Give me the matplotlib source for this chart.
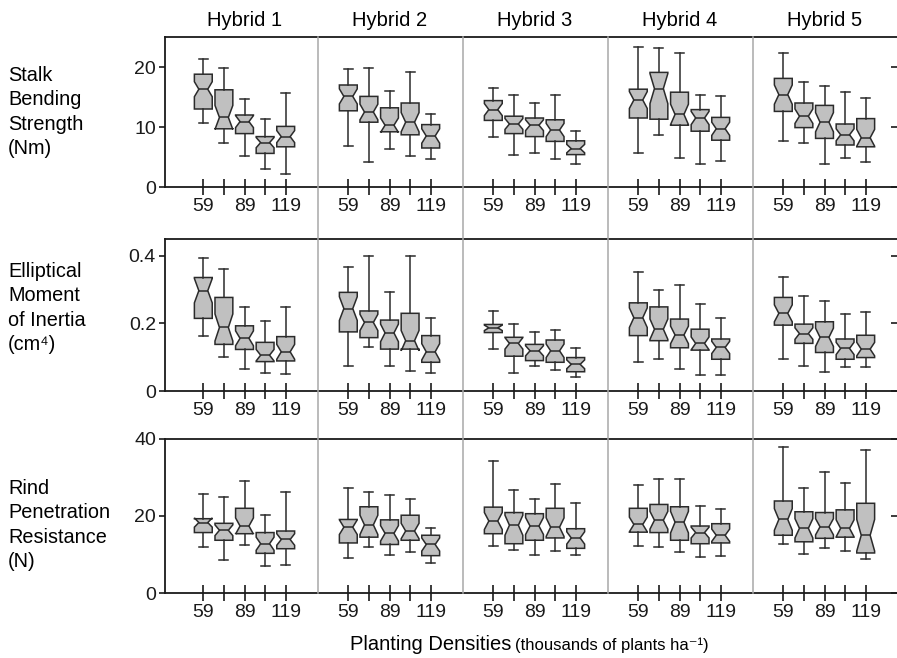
import numpy as np
import matplotlib
matplotlib.use('Agg')
import matplotlib.pyplot as plt
from matplotlib import transforms
from matplotlib.lines import Line2D

plt.rcParams['font.family'] = ['Liberation Sans', 'DejaVu Sans']

hybrids = ['Hybrid 1', 'Hybrid 2', 'Hybrid 3', 'Hybrid 4', 'Hybrid 5']
densities = [59, 74, 89, 104, 119]
density_labels = ['59', '', '89', '', '119']
row_labels = ['Stalk\nBending\nStrength\n(Nm)',
              'Elliptical\nMoment\nof Inertia\n(cm\u2074)',
              'Rind\nPenetration\nResistance\n(N)']

# stalk bending strength (Nm), one inner list per hybrid, one value per density
sbs_lo = [[10.7, 7.4, 5.1, 3.0, 2.1], [6.9, 4.1, 6.3, 5.2, 4.6], [8.3, 5.3, 5.7, 4.6, 3.8],
          [5.7, 8.6, 4.8, 3.8, 4.3], [7.6, 7.4, 3.8, 4.9, 4.2]]
sbs_q1 = [[13.0, 9.7, 8.9, 5.6, 6.7], [12.7, 10.8, 9.2, 8.7, 6.5], [11.1, 8.9, 8.4, 7.6, 5.4],
          [11.5, 11.3, 10.3, 9.3, 7.8], [12.6, 9.9, 8.1, 7.0, 6.7]]
sbs_med = [[16.3, 11.6, 10.9, 7.4, 8.4], [15.1, 12.5, 10.3, 10.8, 8.5], [12.9, 10.5, 10.3, 9.5, 6.4],
           [14.5, 16.4, 12.1, 11.5, 9.7], [15.4, 11.8, 10.8, 8.7, 8.2]]
sbs_q3 = [[18.8, 16.2, 12.0, 8.4, 10.1], [17.0, 15.1, 13.2, 14.0, 10.4], [14.4, 11.8, 11.5, 11.2, 7.7],
          [16.3, 19.1, 15.8, 12.9, 11.6], [18.1, 14.0, 13.6, 10.5, 11.4]]
sbs_hi = [[21.3, 19.9, 14.7, 11.4, 15.6], [19.7, 19.9, 16.0, 19.2, 12.2], [16.5, 15.3, 14.0, 15.4, 9.3],
          [23.4, 23.2, 22.4, 15.4, 15.2], [22.4, 17.5, 16.9, 15.8, 14.8]]
sbs_notch = [[1.25, 2.0, 1.0, 0.85, 1.0], [1.25, 1.3, 1.2, 1.6, 1.2], [1.0, 0.9, 0.9, 1.1, 0.7],
             [1.4, 2.5, 1.7, 1.1, 1.1], [1.6, 1.2, 1.6, 1.0, 1.4]]

# elliptical moment of inertia (cm4)
emi_lo = [[.163, .100, .064, .052, .049], [.074, .129, .075, .059, .052], [.124, .052, .074, .062, .040],
          [.085, .094, .064, .047, .047], [.094, .075, .055, .070, .070]]
emi_q1 = [[.215, .138, .123, .087, .089], [.175, .158, .124, .124, .085], [.173, .103, .090, .085, .057],
          [.164, .149, .128, .121, .094], [.195, .141, .114, .094, .099]]
emi_med = [[.297, .188, .156, .106, .116], [.244, .203, .172, .149, .116], [.187, .141, .119, .119, .079],
           [.217, .183, .166, .141, .129], [.230, .170, .159, .126, .124]]
emi_q3 = [[.336, .277, .193, .144, .161], [.292, .237, .210, .230, .164], [.197, .159, .138, .151, .099],
          [.261, .249, .213, .183, .154], [.277, .198, .205, .154, .165]]
emi_hi = [[.394, .360, .249, .208, .249], [.367, .399, .294, .399, .215], [.236, .197, .175, .180, .126],
          [.353, .300, .315, .259, .215], [.338, .281, .266, .228, .234]]
emi_notch = [[.036, .040, .022, .017, .022], [.035, .024, .026, .030, .024], [.008, .017, .015, .020, .013],
             [.029, .030, .026, .019, .018], [.025, .017, .027, .018, .020]]

# rind penetration resistance (N)
rpr_lo = [[11.9, 8.7, 12.4, 7.1, 7.2], [9.1, 11.9, 9.8, 10.7, 7.8], [12.3, 11.1, 9.8, 11.0, 9.8],
          [12.3, 11.9, 10.6, 9.4, 9.7], [12.6, 10.2, 11.7, 11.0, 8.9]]
rpr_q1 = [[15.7, 13.7, 15.4, 10.3, 11.5], [13.0, 14.5, 12.6, 13.7, 9.7], [15.4, 12.8, 13.7, 14.3, 11.6],
          [15.8, 15.7, 13.7, 12.8, 13.0], [15.0, 13.3, 14.2, 14.5, 10.4]]
rpr_med = [[18.3, 16.3, 17.4, 12.8, 13.9], [17.1, 17.7, 15.5, 16.1, 12.6], [18.7, 17.6, 17.4, 17.1, 14.3],
           [17.8, 18.9, 18.4, 15.7, 15.0], [19.1, 16.8, 17.2, 16.8, 15.0]]
rpr_q3 = [[19.3, 18.1, 22.0, 15.7, 16.1], [19.1, 22.4, 19.0, 20.2, 15.0], [22.3, 20.9, 20.6, 22.0, 16.7],
          [22.0, 23.0, 22.4, 17.4, 18.0], [23.9, 21.1, 20.9, 21.6, 23.3]]
rpr_hi = [[25.8, 25.0, 29.1, 20.2, 26.3], [27.4, 26.3, 25.4, 24.5, 16.8], [34.2, 26.7, 24.3, 28.4, 23.5],
          [28.1, 29.7, 29.7, 22.6, 21.9], [37.8, 27.2, 31.5, 28.7, 37.2]]
rpr_notch = [[1.2, 1.4, 2.1, 1.7, 1.5], [1.9, 2.5, 2.0, 2.0, 1.7], [2.2, 2.6, 2.2, 2.4, 1.6],
             [1.9, 2.3, 2.8, 1.4, 1.6], [2.8, 2.5, 2.1, 2.2, 4.1]]

rows = [
    (sbs_lo, sbs_q1, sbs_med, sbs_q3, sbs_hi, sbs_notch, (0, 25), [0, 10, 20], ['0', '10', '20']),
    (emi_lo, emi_q1, emi_med, emi_q3, emi_hi, emi_notch, (0, 0.45), [0, 0.2, 0.4], ['0', '0.2', '0.4']),
    (rpr_lo, rpr_q1, rpr_med, rpr_q3, rpr_hi, rpr_notch, (0, 40), [0, 20, 40], ['0', '20', '40']),
]

W, H = 897, 658
PANEL = 105.6          # x units per hybrid panel
XMIN, XMAX = 31.1, 564.2
dark = '#2b2b2b'
# top / bottom pixel of each row of axes
row_px = [(37, 187), (239, 391), (439, 593)]
label_y = [112, 308, 525]

fig = plt.figure(figsize=(W / 100, H / 100), dpi=100)
axes = []
for r, (lo, q1, med, q3, hi, notch, ylim, yt, ytl) in enumerate(rows):
    top, bot = row_px[r]
    ax = fig.add_axes([165 / W, 1 - bot / H, (W - 165) / W, (bot - top) / H])
    axes.append(ax)
    stats, pos = [], []
    for h in range(5):
        for i, d in enumerate(densities):
            stats.append(dict(med=med[h][i], q1=q1[h][i], q3=q3[h][i],
                              whislo=lo[h][i], whishi=hi[h][i],
                              cilo=med[h][i] - notch[h][i], cihi=med[h][i] + notch[h][i],
                              fliers=[]))
            pos.append(h * PANEL + d)
    ax.bxp(stats, positions=pos, widths=13, shownotches=True, patch_artist=True,
           showfliers=False, manage_ticks=False,
           boxprops=dict(facecolor='#c0c0c0', edgecolor=dark, linewidth=1.1),
           whiskerprops=dict(color=dark, linewidth=1.1),
           capprops=dict(color=dark, linewidth=1.1),
           medianprops=dict(color=dark, linewidth=1.1))
    ax.set_xlim(XMIN, XMAX)
    ax.set_ylim(*ylim)
    ax.set_xticks(pos)
    ax.set_xticklabels(density_labels * 5)
    ax.set_yticks(yt)
    ax.set_yticklabels(ytl)
    ax.tick_params(axis='x', direction='inout', length=11.5, width=1.2, labelsize=14,
                   pad=2.5, colors='#1a1a1a')
    ax.tick_params(axis='y', direction='out', length=4, width=1.2, labelsize=14,
                   pad=2.5, colors='#1a1a1a')
    ax.spines['right'].set_visible(False)
    for s in ['top', 'left', 'bottom']:
        ax.spines[s].set_linewidth(1.3)
        ax.spines[s].set_color('#1a1a1a')
    # small inward ticks on the right edge
    ax2 = ax.twinx()
    ax2.set_ylim(*ylim)
    ax2.set_yticks(yt)
    ax2.tick_params(axis='y', direction='in', length=4, width=1.2, labelright=False,
                    colors='#1a1a1a')
    for s in ax2.spines.values():
        s.set_visible(False)
    fig.text(8 / W, 1 - label_y[r] / H, row_labels[r], ha='left', va='center',
             fontsize=14.3, linespacing=1.375)

# gray separators between hybrids, running through all three rows
trans = transforms.blended_transform_factory(axes[2].transData, fig.transFigure)
for h in range(1, 5):
    xs = h * PANEL + 36.9
    fig.add_artist(Line2D([xs, xs], [1 - row_px[2][1] / H, 1 - row_px[0][0] / H],
                          transform=trans, color='#a8a8a8', linewidth=1.1, zorder=0.5))

# hybrid titles
ttrans = transforms.blended_transform_factory(axes[0].transData, fig.transFigure)
for h, name in enumerate(hybrids):
    fig.text(h * PANEL + 89, 1 - 21 / H, name, transform=ttrans, ha='center',
             va='center', fontsize=14.5)

fig.text(511 / W, 1 - 650 / H, 'Planting Densities', ha='right', va='baseline', fontsize=14.5)
fig.text(515 / W, 1 - 650 / H, '(thousands of plants ha\u207b\u00b9)', ha='left',
         va='baseline', fontsize=12)

fig.savefig('out.png', dpi=100)
